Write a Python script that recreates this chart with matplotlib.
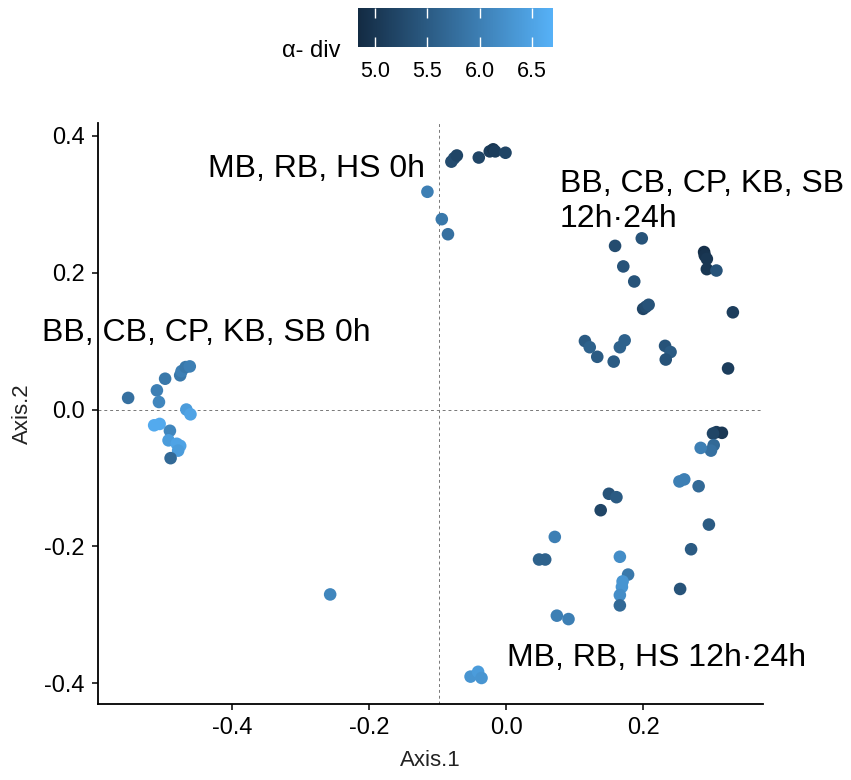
import numpy as np
import matplotlib
matplotlib.use('Agg')
import matplotlib.pyplot as plt
from matplotlib.colors import LinearSegmentedColormap, Normalize

plt.rcParams['font.family'] = ['Liberation Sans', 'DejaVu Sans']

# PCoA coordinates, with alpha diversity per sample
axis1 = [-0.552, -0.498, -0.510, -0.507, -0.476, -0.474, -0.468, -0.462, -0.467, -0.461,
         -0.514, -0.506, -0.491, -0.493, -0.481, -0.476, -0.479, -0.490,
         -0.080, -0.076, -0.072, -0.040, -0.024, -0.019, -0.016, -0.001,
         -0.115, -0.094, -0.085,
         -0.257, -0.052, -0.041, -0.036,
         0.198, 0.159, 0.171, 0.187, 0.200, 0.204, 0.208,
         0.289, 0.290, 0.293, 0.293, 0.307, 0.331,
         0.115, 0.122, 0.133, 0.173, 0.166, 0.157, 0.232, 0.240, 0.233, 0.324,
         0.307, 0.315, 0.302, 0.303, 0.299, 0.284, 0.253, 0.260, 0.281,
         0.150, 0.161, 0.138, 0.296, 0.071, 0.270, 0.048, 0.057,
         0.166, 0.178, 0.170, 0.169, 0.166, 0.166, 0.254, 0.074, 0.091]
axis2 = [0.017, 0.045, 0.028, 0.011, 0.050, 0.056, 0.062, 0.063, 0.000, -0.007,
         -0.023, -0.021, -0.031, -0.045, -0.050, -0.053, -0.060, -0.071,
         0.362, 0.367, 0.371, 0.368, 0.377, 0.380, 0.377, 0.375,
         0.318, 0.278, 0.256,
         -0.270, -0.390, -0.383, -0.392,
         0.250, 0.239, 0.209, 0.187, 0.147, 0.150, 0.153,
         0.230, 0.225, 0.220, 0.205, 0.203, 0.142,
         0.100, 0.091, 0.077, 0.101, 0.091, 0.070, 0.093, 0.084, 0.073, 0.060,
         -0.033, -0.034, -0.035, -0.052, -0.060, -0.056, -0.105, -0.102, -0.112,
         -0.123, -0.128, -0.147, -0.168, -0.186, -0.204, -0.219, -0.219,
         -0.215, -0.241, -0.251, -0.259, -0.271, -0.286, -0.262, -0.301, -0.306]
alpha_div = [5.8, 5.9, 6.0, 6.1, 5.9, 6.0, 5.9, 6.0, 6.4, 6.5,
             6.6, 6.6, 6.1, 6.4, 6.5, 6.5, 6.4, 5.7,
             5.3, 5.3, 5.2, 5.2, 5.1, 5.0, 5.1, 5.2,
             6.0, 5.9, 5.8,
             6.1, 6.3, 6.4, 6.3,
             5.4, 5.3, 5.4, 5.4, 5.2, 5.3, 5.4,
             4.9, 4.95, 5.0, 5.0, 5.4, 5.1,
             5.5, 5.6, 5.5, 5.6, 5.6, 5.5, 5.4, 5.5, 5.4, 5.1,
             5.1, 5.0, 5.2, 5.7, 5.8, 6.0, 6.0, 6.0, 5.7,
             5.4, 5.5, 5.2, 5.5, 6.0, 5.5, 5.6, 5.6,
             6.2, 5.9, 6.3, 6.3, 6.2, 5.7, 5.4, 6.0, 6.0]

cbar_ticks = [5.0, 5.5, 6.0, 6.5]

cmap = LinearSegmentedColormap.from_list('gg', ['#132B43', '#56B1F7'])
norm = Normalize(vmin=4.84, vmax=6.695)

fig = plt.figure(figsize=(8.51, 7.8), dpi=100)
ax = fig.add_axes([98 / 851, 76 / 780, 665 / 851, 580.7 / 780])

ax.axhline(0, color='#777777', lw=0.7, dashes=(3, 3), zorder=1)
ax.axvline(-0.098, color='#777777', lw=0.7, dashes=(3, 3), zorder=1)

sc = ax.scatter(axis1, axis2, c=alpha_div, cmap=cmap, norm=norm, s=82,
                linewidths=0, zorder=3)

ax.set_xlim(-0.596, 0.375)
ax.set_ylim(-0.430, 0.418)
ax.set_xticks([-0.4, -0.2, 0.0, 0.2])
ax.set_yticks([-0.4, -0.2, 0.0, 0.2, 0.4])
ax.set_xticklabels(['-0.4', '-0.2', '0.0', '0.2'])
ax.set_yticklabels(['-0.4', '-0.2', '0.0', '0.2', '0.4'])
ax.tick_params(length=4.5, width=1.1, labelsize=17, colors='black', pad=5)
for side in ['top', 'right']:
    ax.spines[side].set_visible(False)
for side in ['left', 'bottom']:
    ax.spines[side].set_linewidth(1.3)
ax.set_xlabel('Axis.1', fontsize=16, color='#222222', labelpad=8)
ax.set_ylabel('Axis.2', fontsize=16, color='#222222', labelpad=8)

fs = 23
ax.text(-0.119, 0.339, 'MB, RB, HS 0h', fontsize=fs, ha='right', va='baseline')
ax.text(-0.678, 0.100, 'BB, CB, CP, KB, SB 0h', fontsize=fs, ha='left',
        va='baseline', clip_on=False)
ax.text(0.078, 0.317, 'BB, CB, CP, KB, SB', fontsize=fs, ha='left', va='baseline')
ax.text(0.078, 0.267, '12h·24h', fontsize=fs, ha='left', va='baseline')
ax.text(0.001, -0.374, 'MB, RB, HS 12h·24h', fontsize=fs, ha='left', va='baseline')

# colour bar on top, ggplot style
cax = fig.add_axes([358.3 / 851, (780 - 46.7) / 780, 194.4 / 851, 38.4 / 780])
cb = fig.colorbar(sc, cax=cax, orientation='horizontal', ticks=cbar_ticks)
cb.outline.set_visible(False)
cax.set_xticklabels(['%.1f' % t for t in cbar_ticks])
cax.tick_params(axis='x', direction='in', color='white', length=7, width=1,
                top=True, bottom=True, labeltop=False, labelbottom=True,
                labelsize=15.5, pad=10)
fig.text(340 / 851, (780 - 57.3) / 780, 'α- div', fontsize=17, ha='right',
         va='baseline')

fig.savefig('out.png', dpi=100)
